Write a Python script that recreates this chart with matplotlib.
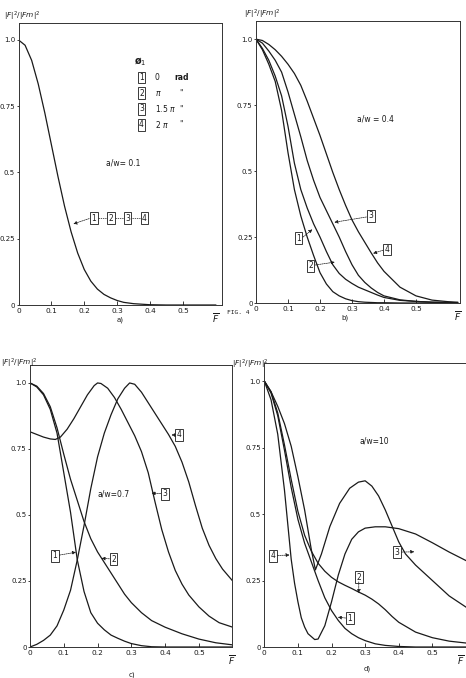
import matplotlib
matplotlib.use("Agg")
import matplotlib.pyplot as plt

plt.rcParams['font.family'] = ['DejaVu Sans']

W, H = 466, 678
LC = '#1a1a1a'

# ---------------- data ----------------
# panel a (a/w = 0.1): all four curves coincide
a_x = [0, .02, .04, .06, .08, .10, .12, .14, .16, .18, .20, .22, .24, .26, .28, .30, .32, .35, .40, .45, .50, .55, .60]
a_y = [1.0, .98, .923, .834, .725, .605, .485, .373, .276, .196, .134, .09, .06, .04, .027, .017, .01, .005, .001, 0, 0, 0, 0]

# panel b (a/w = 0.4)
b_x = [0, .02, .04, .06, .08, .10, .12, .14, .16, .18, .20, .22, .24, .26, .28, .30, .32, .34, .36, .38, .40, .45, .50, .55, .60, .63]
b_1 = [1.0, .96, .905, .84, .73, .57, .43, .33, .25, .18, .115, .072, .043, .027, .016, .009, .005, .003, .002, .001, .001, 0, 0, 0, 0, 0]
b_2 = [1.0, .965, .92, .86, .785, .67, .53, .43, .36, .30, .25, .195, .145, .112, .09, .074, .06, .05, .04, .03, .021, .01, .006, .003, .002, .001]
b_3 = [1.0, .985, .955, .92, .875, .80, .715, .63, .54, .465, .40, .35, .30, .25, .195, .145, .105, .078, .057, .04, .027, .012, .006, .003, .002, .001]
b_4 = [1.0, .995, .98, .96, .935, .905, .87, .825, .765, .70, .635, .565, .495, .43, .37, .315, .27, .23, .19, .152, .12, .06, .027, .011, .005, .003]

# panel c (a/w = 0.7)
c1_x = [0, .02, .04, .06, .08, .10, .12, .14, .16, .18, .20, .22, .24, .26, .28, .30, .33, .36, .40, .50, .60]
c1_y = [1.0, .985, .955, .90, .81, .66, .51, .33, .21, .13, .09, .065, .045, .033, .022, .013, .005, .001, 0, 0, 0]
c2_x = [0, .02, .04, .06, .08, .10, .12, .14, .16, .18, .20, .22, .24, .26, .28, .30, .33, .36, .40, .45, .50, .55, .60]
c2_y = [1.0, .988, .96, .91, .83, .73, .635, .555, .475, .41, .36, .32, .28, .24, .20, .168, .13, .10, .075, .05, .03, .016, .008]
c3_x = [0, .02, .04, .06, .075, .09, .11, .13, .15, .17, .19, .20, .21, .23, .25, .27, .29, .31, .33, .35, .37, .39, .41, .43, .45, .47, .50, .53, .56, .60]
c3_y = [.815, .805, .795, .788, .786, .795, .825, .865, .91, .955, .99, 1.0, .998, .98, .945, .90, .85, .80, .74, .66, .55, .445, .36, .29, .238, .197, .152, .117, .092, .075]
c4_x = [0, .02, .04, .06, .08, .10, .12, .14, .16, .18, .20, .22, .24, .26, .28, .295, .31, .33, .35, .37, .39, .41, .43, .45, .47, .49, .51, .53, .55, .57, .60]
c4_y = [0, .01, .025, .045, .08, .14, .215, .33, .46, .60, .72, .81, .88, .94, .98, 1.0, .995, .965, .925, .885, .845, .805, .76, .70, .625, .535, .45, .385, .335, .295, .25]

# panel d (a/w = 10)
d1_x = [0, .02, .04, .06, .08, .10, .12, .14, .16, .18, .20, .22, .24, .26, .28, .30, .33, .36, .40, .45, .50, .60]
d1_y = [1.0, .955, .87, .74, .60, .48, .39, .32, .25, .185, .137, .10, .07, .05, .035, .024, .012, .006, .002, 0, 0, 0]
d2_x = [0, .02, .04, .06, .08, .10, .12, .14, .16, .18, .20, .22, .24, .26, .28, .30, .32, .34, .36, .38, .40, .45, .50, .55, .60]
d2_y = [1.0, .96, .88, .76, .63, .51, .42, .36, .315, .285, .262, .245, .232, .22, .207, .195, .18, .162, .14, .115, .093, .056, .035, .022, .015]
d3_x = [0, .02, .04, .06, .08, .10, .12, .14, .152, .17, .195, .224, .254, .28, .30, .32, .34, .36, .38, .40, .42, .45, .50, .55, .60]
d3_y = [1.0, .96, .905, .84, .755, .64, .515, .365, .29, .35, .453, .54, .597, .62, .625, .605, .568, .515, .455, .395, .35, .308, .25, .192, .15]
d4_x = [0, .02, .04, .06, .07, .08, .09, .10, .11, .12, .13, .15, .16, .18, .20, .22, .24, .26, .28, .30, .33, .36, .40, .45, .50, .55, .60]
d4_y = [1.0, .93, .80, .59, .46, .33, .24, .17, .11, .075, .05, .028, .03, .08, .17, .27, .35, .405, .433, .447, .452, .452, .445, .425, .392, .357, .325]

x_ticks = [0, 0.1, 0.2, 0.3, 0.4, 0.5]
x_tick_labels = ['0', '0.1', '0.2', '0.3', '0.4', '0.5']
y_ticks = [0, 0.25, 0.5, 0.75, 1.0]
y_tick_labels = ['0', '0.25', '0.5', '0.75', '1.0']

fig = plt.figure(figsize=(W / 100, H / 100), dpi=100)
fig.patch.set_facecolor('white')


def make_ax(left, right, bottom, top, xmax, ymax):
    ax = fig.add_axes([left / W, (H - bottom) / H, (right - left) / W, (bottom - top) / H])
    ax.set_xlim(0, xmax)
    ax.set_ylim(0, ymax)
    ax.set_xticks(x_ticks)
    ax.set_xticklabels(x_tick_labels)
    ax.set_yticks(y_ticks)
    ax.set_yticklabels(y_tick_labels)
    ax.tick_params(axis='x', direction='in', length=3, width=0.6, labelsize=5.3, pad=2, colors=LC)
    ax.tick_params(axis='y', direction='out', length=1.5, width=0.6, labelsize=5.0, pad=1.0, colors=LC)
    for s in ax.spines.values():
        s.set_linewidth(0.7)
        s.set_color('#333333')
    return ax


def box(ax, x, y, s):
    ax.text(x, y, s, fontsize=5.5, ha='center', va='center', color=LC,
            bbox=dict(boxstyle='square,pad=0.18', fc='white', ec=LC, lw=0.6))


def arrow(ax, tip, start):
    ax.annotate('', xy=tip, xytext=start,
                arrowprops=dict(arrowstyle='-|>', lw=0.5, color=LC, linestyle=(0, (2, 1.2)),
                                mutation_scale=5, shrinkA=0, shrinkB=0))


def ylabel(x, y):
    fig.text(x / W, 1 - y / H, r'$|F|^2/|Fm|^2$', fontsize=5.3, ha='left', va='center', color=LC)


def fbar(ax, x):
    ax.text(x, -0.045, r'$\overline{F}$', fontsize=6.5, ha='center', va='center', color=LC,
            transform=ax.get_xaxis_transform(), fontweight='bold')


lw = 0.9

# ---------------- panel a ----------------
axa = make_ax(18.5, 222, 305, 22.7, 0.619, 1.065)
axa.plot(a_x, a_y, color=LC, lw=lw)
fbar(axa, 0.6)
axa.text(0.369, 0.917, 'ø$_1$', fontsize=7, ha='center', va='center', color=LC, fontweight='bold')
leg_rows = [('1', '0', 'rad'), ('2', r'$\pi$', '"'), ('3', r'1.5 $\pi$', '"'), ('4', r'2 $\pi$', '"')]
leg_y = [0.858, 0.799, 0.74, 0.68]
for (n, v, u), yy in zip(leg_rows, leg_y):
    box(axa, 0.374, yy, n)
    axa.text(0.415, yy, v, fontsize=5.5, ha='left', va='center', color=LC)
    axa.text(0.475 if u == 'rad' else 0.49, yy, u, fontsize=5.5, ha='left', va='center', color=LC,
             fontweight='bold' if u == 'rad' else 'normal')
axa.text(0.318, 0.536, 'a/w= 0.1', fontsize=5.5, ha='center', va='center', color=LC)
chain_x = [0.229, 0.281, 0.332, 0.383]
for i in range(3):
    axa.plot([chain_x[i] + 0.012, chain_x[i + 1] - 0.012], [0.328, 0.328], color=LC, lw=0.5, ls=(0, (2, 1.2)))
for i, cx in enumerate(chain_x):
    box(axa, cx, 0.328, str(i + 1))
arrow(axa, (0.167, 0.306), (0.215, 0.326))
fig.text(120 / W, 1 - 320 / H, 'a)', fontsize=5, ha='center', va='center', color=LC)
ylabel(4, 16)

# ---------------- panel b ----------------
axb = make_ax(256, 460, 303, 20.7, 0.6375, 1.07)
for yy in (b_1, b_2, b_3, b_4):
    axb.plot(b_x, yy, color=LC, lw=lw)
fbar(axb, 0.63)
axb.text(0.372, 0.697, 'a/w = 0.4', fontsize=5.5, ha='center', va='center', color=LC)
box(axb, 0.359, 0.33, '3')
arrow(axb, (0.245, 0.306), (0.345, 0.326))
box(axb, 0.41, 0.203, '4')
arrow(axb, (0.366, 0.188), (0.397, 0.2))
box(axb, 0.133, 0.245, '1')
arrow(axb, (0.176, 0.279), (0.147, 0.25))
box(axb, 0.171, 0.141, '2')
arrow(axb, (0.246, 0.155), (0.185, 0.144))
fig.text(345 / W, 1 - 318 / H, 'b)', fontsize=5, ha='center', va='center', color=LC)
fig.text(238 / W, 1 - 313 / H, 'FIG. 4', fontsize=4.5, ha='center', va='center', color=LC,
         family='DejaVu Sans Mono')
ylabel(244, 14)

# ---------------- panel c ----------------
axc = make_ax(30, 232, 647, 365, 0.598, 1.068)
for xx, yy in ((c1_x, c1_y), (c2_x, c2_y), (c3_x, c3_y), (c4_x, c4_y)):
    axc.plot(xx, yy, color=LC, lw=lw)
fbar(axc, 0.598)
axc.text(0.247, 0.58, 'a/w=0.7', fontsize=5.5, ha='center', va='center', color=LC)
box(axc, 0.441, 0.803, '4')
arrow(axc, (0.419, 0.803), (0.43, 0.803))
box(axc, 0.399, 0.58, '3')
arrow(axc, (0.36, 0.583), (0.387, 0.581))
box(axc, 0.247, 0.333, '2')
arrow(axc, (0.212, 0.336), (0.235, 0.334))
box(axc, 0.074, 0.346, '1')
arrow(axc, (0.136, 0.359), (0.087, 0.348))
fig.text(132 / W, 1 - 675 / H, 'c)', fontsize=5, ha='center', va='center', color=LC)
ylabel(1, 363)

# ---------------- panel d ----------------
axd = make_ax(264.3, 466, 647, 363, 0.6, 1.068)
for xx, yy in ((d1_x, d1_y), (d2_x, d2_y), (d3_x, d3_y), (d4_x, d4_y)):
    axd.plot(xx, yy, color=LC, lw=lw)
fbar(axd, 0.585)
axd.text(0.328, 0.776, 'a/w=10', fontsize=5.5, ha='center', va='center', color=LC)
box(axd, 0.026, 0.343, '4')
arrow(axd, (0.075, 0.346), (0.039, 0.344))
box(axd, 0.395, 0.356, '3')
arrow(axd, (0.446, 0.358), (0.408, 0.357))
box(axd, 0.281, 0.262, '2')
arrow(axd, (0.281, 0.203), (0.281, 0.245))
box(axd, 0.255, 0.108, '1')
arrow(axd, (0.219, 0.112), (0.242, 0.109))
fig.text(367 / W, 1 - 669 / H, 'd)', fontsize=5, ha='center', va='center', color=LC)
ylabel(232, 364)

fig.savefig('out.png', dpi=100, facecolor='white')
